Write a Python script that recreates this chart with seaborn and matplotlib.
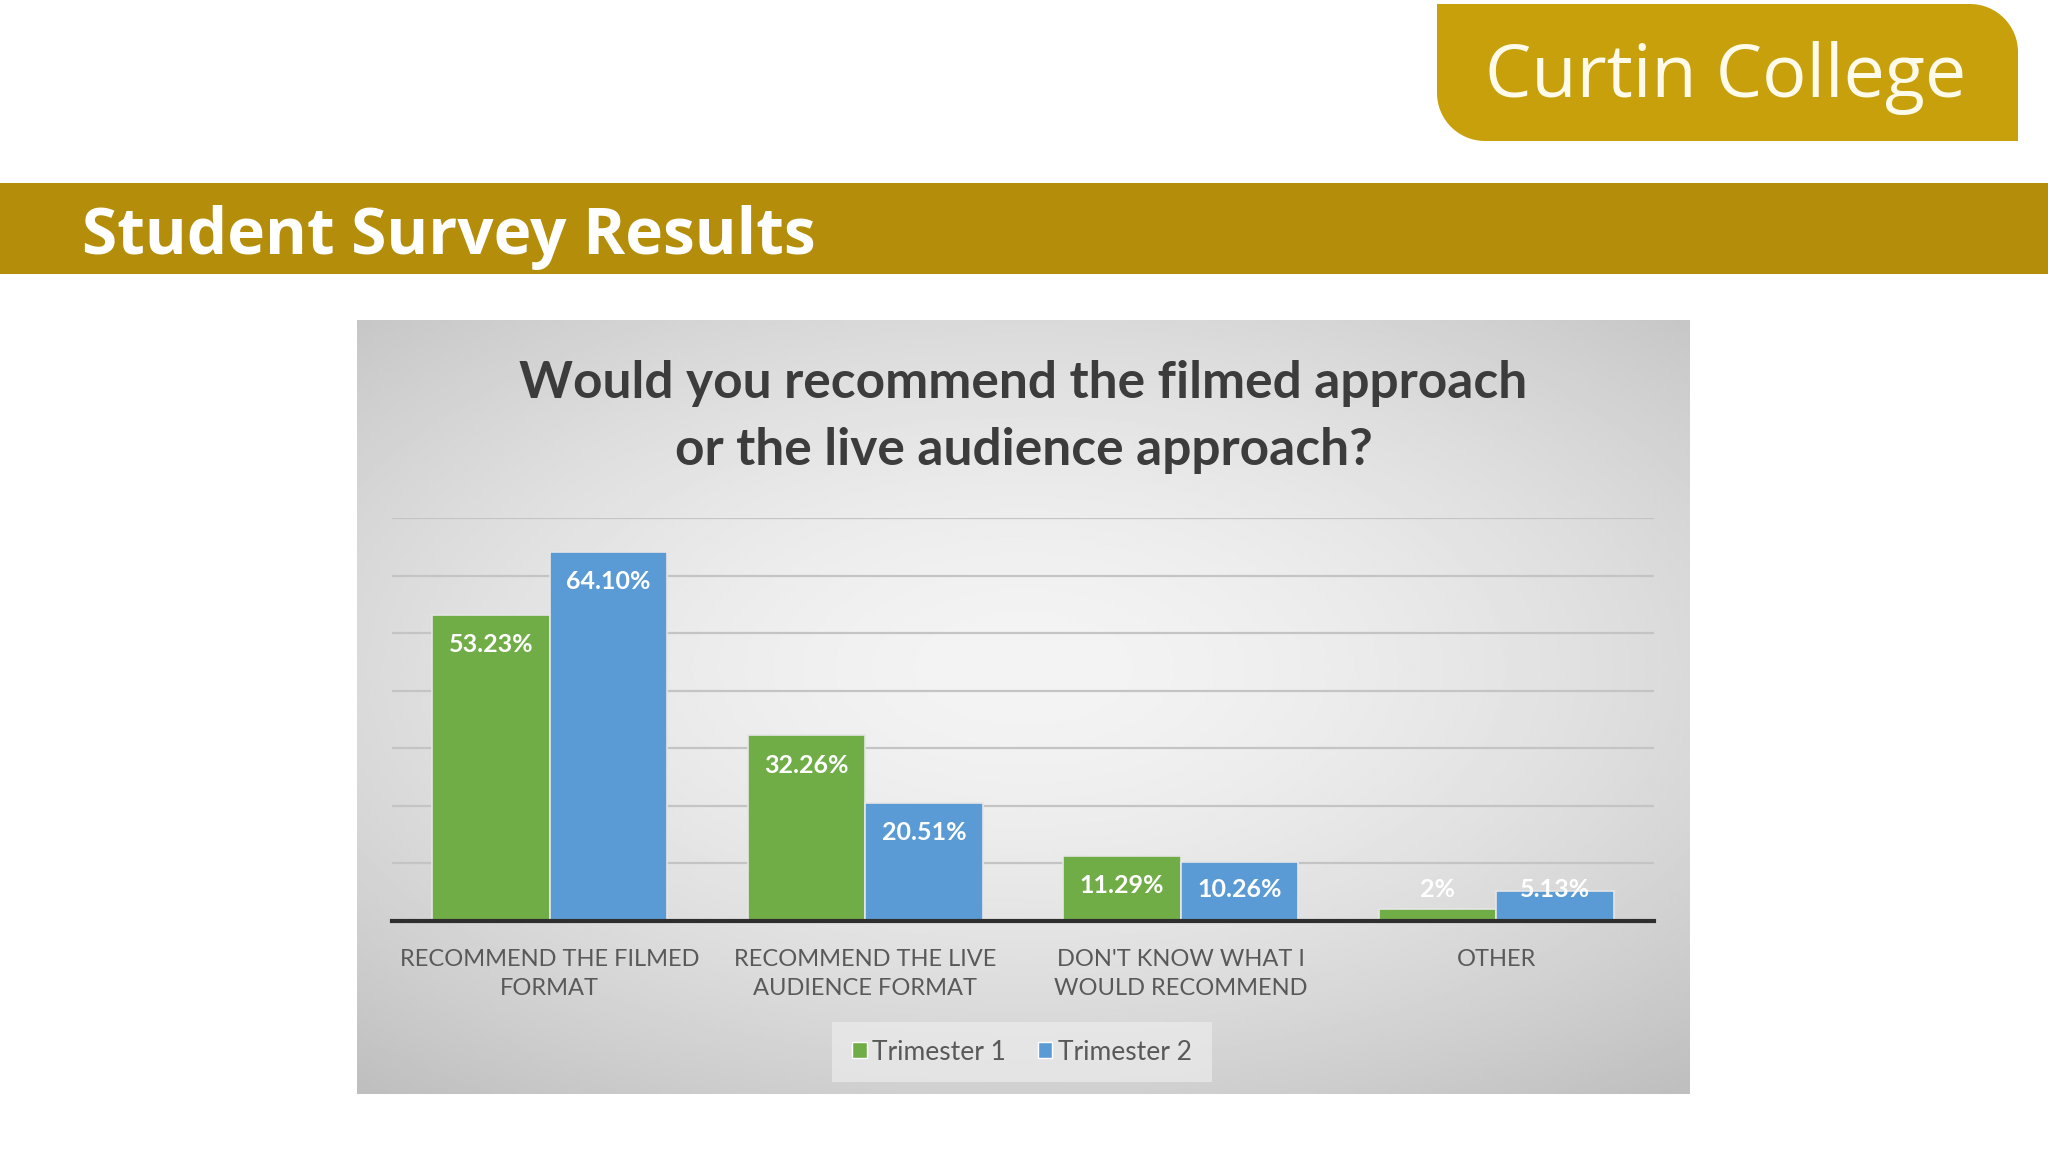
import numpy as np
import pandas as pd
import matplotlib.pyplot as plt
from matplotlib.patches import PathPatch, Rectangle, FancyBboxPatch
from matplotlib.path import Path
import seaborn as sns

# data
categories = ["RECOMMEND THE FILMED\nFORMAT", "RECOMMEND THE LIVE\nAUDIENCE FORMAT",
              "DON'T KNOW WHAT I\nWOULD RECOMMEND", "OTHER"]
trimester_1 = [53.23, 32.26, 11.29, 2.0]
trimester_2 = [64.10, 20.51, 10.26, 5.13]
labels_1 = ["53.23%", "32.26%", "11.29%", "2%"]
labels_2 = ["64.10%", "20.51%", "10.26%", "5.13%"]
series = ["Trimester 1", "Trimester 2"]

GREEN = "#70AD47"
BLUE = "#5B9BD5"
GOLD_BANNER = "#B48D0A"
GOLD_LOGO = "#C8A00B"

df = pd.DataFrame({
    "cat": categories * 2,
    "val": trimester_1 + trimester_2,
    "label": labels_1 + labels_2,
    "serie": [series[0]] * 4 + [series[1]] * 4,
})

sns.set_theme(style="white")
plt.rcParams["font.family"] = ["Lato", "DejaVu Sans"]

W, H = 2048, 1152
fig = plt.figure(figsize=(W / 100, H / 100), dpi=100)
fig.patch.set_facecolor("white")


def fx(px):
    return px / W


def fy(py):
    return 1 - py / H


def arc(cx, cy, r, a0, a1):
    t = np.radians(np.linspace(a0, a1, 20))
    return [(cx + r * np.cos(a), cy - r * np.sin(a)) for a in t]


# logo shape in pixel coords: square top-left, round bottom-left and top-right
x0, x1, y0, y1, r = 1437, 2018, 4, 141, 48
pts = [(x0, y0)]
pts += arc(x1 - r, y0 + r, r, 90, 0)
pts += [(x1, y1)]
pts += arc(x0 + r, y1 - r, r, 270, 180)
pts += [(x0, y0)]
verts = [(fx(a), fy(b)) for a, b in pts]
fig.patches.append(PathPatch(Path(verts, closed=True), transform=fig.transFigure,
                             facecolor=GOLD_LOGO, edgecolor="none"))
fig.text(fx(1726), fy(78), "Curtin College", family=["Open Sans", "DejaVu Sans"], fontsize=53,
         color="#FFFBEA", ha="center", va="center")

# banner
fig.patches.append(Rectangle((0, fy(274)), 1, fy(183) - fy(274), transform=fig.transFigure,
                             facecolor=GOLD_BANNER, edgecolor="none"))
fig.text(fx(82), fy(238), "Student Survey Results", family=["Open Sans", "DejaVu Sans"],
         fontsize=46, fontweight="bold", color="white", ha="left", va="center")

# chart panel with soft gradient
panel = fig.add_axes([fx(357), fy(1094), fx(1690) - fx(357), fy(320) - fy(1094)])
yy, xx = np.mgrid[-1:1:300j, -1:1:500j]
rr = np.sqrt((xx * 0.9) ** 2 + ((yy + 0.1) * 1.0) ** 2)
panel.imshow(0.955 - 0.12 * np.clip(rr, 0, 1.4) ** 1.6, cmap="gray", vmin=0, vmax=1,
             aspect="auto", extent=[0, 1, 0, 1])
panel.set_axis_off()
panel.text(0.5, 0.918, "Would you recommend the filmed approach", transform=panel.transAxes,
           ha="center", va="center", fontsize=37, fontweight="bold", color="#3c3c3c")
panel.text(0.5, 0.831, "or the live audience approach?", transform=panel.transAxes,
           ha="center", va="center", fontsize=37, fontweight="bold", color="#3c3c3c")

# bar chart
ax = fig.add_axes([fx(392), fy(921), fx(1654) - fx(392), fy(518) - fy(921)])
ax.patch.set_alpha(0)
sns.barplot(data=df, x="cat", y="val", hue="serie", palette=[GREEN, BLUE], width=0.745,
            saturation=1, edgecolor="#e6e6e6", linewidth=1.2, legend=False, ax=ax)
ax.set_ylim(0, 70)
ax.set_xlim(-0.5, 3.5)
ax.set_yticks(range(10, 71, 10))
ax.yaxis.grid(True, color="#c4c4c4", linewidth=1.6)
ax.set_axisbelow(True)
ax.tick_params(axis="y", left=False, labelleft=False)
ax.tick_params(axis="x", bottom=False, pad=14, labelsize=17, labelcolor="#595959")
for s in ["top", "right", "left"]:
    ax.spines[s].set_visible(False)
ax.spines["bottom"].set_color("#2e2e2e")
ax.spines["bottom"].set_linewidth(3)
ax.set_xlabel("")
ax.set_ylabel("")
for lbl in ax.get_xticklabels():
    lbl.set_linespacing(1.5)

for container, vals, labs in zip(ax.containers, [trimester_1, trimester_2], [labels_1, labels_2]):
    for bar, v, t in zip(container, vals, labs):
        x = bar.get_x() + bar.get_width() / 2
        ax.text(x, max(v - 5.2, 5.4), t, ha="center", va="center", fontsize=18,
                fontweight="bold", color="white")

# legend
legend_bg = FancyBboxPatch((fx(832), fy(1082)), fx(380), fy(1022) - fy(1082),
                           boxstyle="square,pad=0", transform=fig.transFigure,
                           facecolor="#ececec", edgecolor="none", alpha=0.7)
fig.patches.append(legend_bg)
handles = [Rectangle((0, 0), 1, 1, facecolor=c) for c in [GREEN, BLUE]]
fig.legend(handles, series, loc="center", bbox_to_anchor=(fx(1022), fy(1052)), ncol=2,
           frameon=False, fontsize=19, handlelength=0.55, handleheight=0.55,
           handletextpad=0.2, columnspacing=1.2, labelcolor="#595959")

fig.savefig("out.png", dpi=100)
